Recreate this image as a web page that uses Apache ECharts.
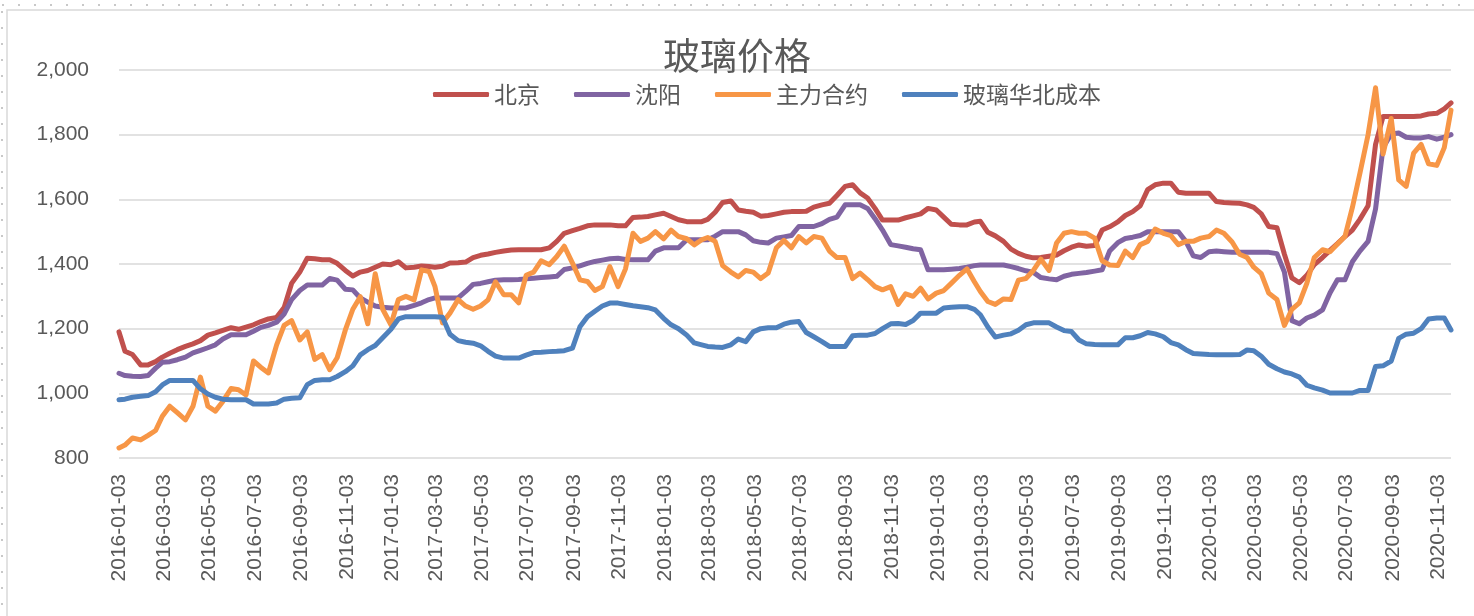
<!DOCTYPE html>
<html>
<head>
<meta charset="utf-8">
<script src="https://cdn.jsdelivr.net/npm/echarts@6/dist/echarts.min.js"></script>
<style>
  html, body { margin: 0; padding: 0; background: #fff; }
  #chart { width: 1474px; height: 616px; }
</style>
</head>
<body>
<div id="chart"></div>
<script>
 // 横轴刻度
 var tickLabels = ['2016-01-03','2016-03-03','2016-05-03','2016-07-03','2016-09-03','2016-11-03',
   '2017-01-03','2017-03-03','2017-05-03','2017-07-03','2017-09-03','2017-11-03',
   '2018-01-03','2018-03-03','2018-05-03','2018-07-03','2018-09-03','2018-11-03',
   '2019-01-03','2019-03-03','2019-05-03','2019-07-03','2019-09-03','2019-11-03',
   '2020-01-03','2020-03-03','2020-05-03','2020-07-03','2020-09-03','2020-11-03'];
 var seriesNames = ['北京', '沈阳', '主力合约', '玻璃华北成本'];

 // 取样日期: 每月 1/11/21 日, 首尾按数据范围
 var sampleDates = [];
 for (var y = 2016; y <= 2020; y++) {
   for (var m = 1; m <= 12; m++) {
     if (y == 2020 && m > 11) break;
     [1, 11, 21].forEach(function (d) {
       if (y == 2016 && m == 1 && d == 1) d = 3;
       if (y == 2020 && m == 11 && d == 21) d = 20;
       sampleDates.push(y + '-' + (m < 10 ? '0' + m : m) + '-' + (d < 10 ? '0' + d : d));
     });
   }
 }

 var beijing = [
   1190,1130,1120, 1088,1088,1098, 1112,1124,1135, 1145,1153,1163, 1180,1187,1195, 1203,1198,1205,
   1212,1222,1230, 1235,1265,1340, 1375,1418,1416, 1413,1413,1402, 1380,1363,1375, 1380,1390,1400,
   1398,1407,1388, 1390,1394,1392, 1390,1393,1403, 1404,1406,1420, 1427,1431,1436, 1440,1443,1444,
   1444,1444,1444, 1450,1470,1495, 1503,1510,1518, 1521,1521,1521, 1518,1518,1544, 1545,1547,1552,
   1557,1547,1537, 1531,1531,1531, 1538,1560,1590, 1595,1567,1563, 1560,1548,1550, 1555,1560,1562,
   1562,1563,1576, 1583,1588,1612, 1640,1645,1620, 1604,1572,1536, 1536,1536,1543, 1549,1555,1572,
   1567,1545,1523, 1521,1521,1530, 1532,1498,1487, 1470,1446,1433, 1424,1419,1420, 1424,1428,1441,
   1452,1459,1455, 1457,1505,1515, 1530,1550,1562, 1580,1630,1645, 1650,1650,1622, 1619,1619,1619,
   1619,1593,1590, 1589,1588,1583, 1575,1555,1516, 1512,1430,1357, 1342,1365,1398, 1420,1442,1463,
   1485,1505,1538, 1580,1770,1856, 1856,1856,1856, 1856,1858,1864, 1866,1880,1898];

 var shenyang = [
   1062,1055,1053, 1052,1055,1078, 1096,1098,1104, 1112,1125,1133, 1141,1150,1168, 1181,1181,1181,
   1192,1204,1210, 1220,1245,1290, 1318,1335,1335, 1335,1355,1350, 1322,1320,1295, 1282,1270,1266,
   1264,1264,1264, 1272,1280,1290, 1295,1295,1295, 1295,1315,1337, 1340,1345,1350, 1351,1351,1352,
   1354,1356,1358, 1360,1362,1383, 1388,1394,1402, 1408,1412,1416, 1418,1414,1413, 1413,1413,1440,
   1450,1450,1450, 1475,1475,1475, 1475,1486,1500, 1500,1500,1490, 1472,1467,1465, 1480,1484,1488,
   1516,1516,1516, 1525,1538,1545, 1583,1583,1583, 1572,1540,1505, 1460,1456,1452, 1447,1444,1382,
   1382,1382,1384, 1386,1390,1395, 1397,1397,1397, 1397,1392,1386, 1379,1374,1358, 1354,1351,1362,
   1368,1371,1374, 1378,1382,1440, 1466,1479,1483, 1488,1500,1500, 1500,1500,1500, 1470,1425,1420,
   1438,1440,1438, 1436,1436,1436, 1436,1436,1436, 1432,1375,1225, 1215,1233,1242, 1258,1310,1351,
   1351,1407,1440, 1470,1570,1760, 1802,1805,1792, 1790,1790,1794, 1786,1792,1800];

 var zhuli = [
   831,840,862, 856,870,885, 929,960,940, 918,960,1050, 960,945,975, 1015,1011,995,
   1100,1080,1063, 1150,1210,1225, 1165,1190,1105, 1120,1073,1110, 1196,1260,1299, 1215,1370,1260,
   1212,1290,1300, 1289,1382,1377, 1330,1218,1248, 1290,1270,1260, 1270,1289,1345, 1305,1305,1280,
   1365,1375,1410, 1398,1423,1455, 1403,1351,1346, 1318,1330,1392, 1330,1385,1495, 1470,1480,1500,
   1478,1505,1485, 1478,1459,1475, 1482,1470,1395, 1375,1360,1380, 1375,1355,1372, 1450,1473,1450,
   1485,1465,1485, 1480,1440,1420, 1420,1355,1372, 1352,1330,1320, 1330,1275,1308, 1300,1325,1292,
   1310,1318,1340, 1365,1385,1345, 1315,1284,1275, 1292,1290,1350, 1355,1380,1415, 1380,1465,1495,
   1500,1495,1495, 1480,1410,1397, 1395,1440,1420, 1460,1470,1508, 1495,1488,1460, 1470,1470,1480,
   1485,1505,1495, 1468,1430,1420, 1390,1370,1310, 1290,1210,1260, 1280,1340,1420, 1444,1438,1462,
   1485,1575,1680, 1800,1945,1740, 1850,1660,1640, 1743,1770,1710, 1705,1760,1876];

 var huabeiCost = [
   980,982,988, 991,993,1005, 1026,1040,1040, 1040,1040,1014, 998,988,982, 980,980,980,
   967,967,967, 970,982,985, 986,1027,1040, 1042,1042,1052, 1067,1085,1119, 1135,1148,1172,
   1198,1230,1237, 1237,1237,1237, 1237,1235,1183, 1163,1158,1155, 1147,1130,1115, 1109,1109,1109,
   1118,1126,1127, 1129,1130,1132, 1140,1206,1237, 1254,1270,1279, 1279,1275,1271, 1268,1265,1258,
   1232,1212,1200, 1180,1156,1150, 1145,1143,1142, 1150,1168,1160, 1190,1200,1203, 1203,1214,1220,
   1222,1188,1175, 1160,1145,1145, 1145,1178,1180, 1180,1185,1200, 1215,1216,1213, 1225,1248,1248,
   1248,1264,1266, 1268,1268,1260, 1243,1205,1174, 1180,1184,1195, 1212,1218,1218, 1218,1205,1194,
   1191,1165,1153, 1151,1150,1150, 1150,1172,1172, 1178,1188,1184, 1175,1157,1150, 1135,1123,1122,
   1120,1119,1119, 1119,1120,1134, 1132,1115,1090, 1076,1066,1060, 1050,1025,1017, 1010,1001,1001,
   1001,1001,1009, 1009,1083,1085, 1100,1170,1183, 1186,1200,1230, 1233,1233,1196];

 var colors = ['#C0504D', '#8064A2', '#F79646', '#4F81BD'];

 function toTime(s) {
   var p = s.split('-');
   return new Date(+p[0], +p[1] - 1, +p[2]).getTime();
 }
 function pad(n) { return n < 10 ? '0' + n : '' + n; }

 function makeSeries(name, values, i) {
   return {
     name: name,
     type: 'line',
     symbol: 'none',
     smooth: false,
     z: 2 + i,
     lineStyle: { width: 5, color: colors[i], cap: 'round', join: 'round' },
     itemStyle: { color: colors[i] },
     data: values.map(function (v, k) { return [toTime(sampleDates[k]), v]; })
   };
 }

 function makeOption() {
   var labelFont = "'Liberation Sans', 'Noto Sans CJK SC', sans-serif";
   var option = {
     animation: false,
     backgroundColor: '#ffffff',
     color: colors,
     title: {
       text: '玻璃价格',
       left: 'center',
       top: 32,
       textStyle: { color: '#595959', fontSize: 37, fontWeight: 'normal', fontFamily: "'Noto Sans CJK SC', sans-serif" }
     },
     legend: {
       data: seriesNames,
       left: 428,
       top: 78,
       icon: 'roundRect',
       itemWidth: 56,
       itemHeight: 5,
       itemGap: 34,
       textStyle: { color: '#595959', fontSize: 23, fontFamily: "'Noto Sans CJK SC', sans-serif" }
     },
     graphic: [
       { type: 'rect', shape: { x: 7, y: 10, width: 1480, height: 620 }, silent: true,
         style: { fill: 'none', stroke: '#D9D9D9', lineWidth: 1.5 } },
       { type: 'rect', shape: { x: 2, y: 5, width: 1480, height: 620 }, silent: true,
         style: { fill: 'none', stroke: '#C8C8C8', lineWidth: 2, lineDash: [2, 14] } }
     ],
     grid: { left: 119, right: 23, top: 70, bottom: 158, outerBoundsMode: 'none' },
     xAxis: {
       type: 'value',
       min: toTime('2016-01-03'),
       max: toTime('2020-11-20'),
       axisLine: { show: false },
       axisTick: { show: false },
       splitLine: { show: false },
       axisLabel: {
         customValues: tickLabels.map(toTime),
         rotate: 90,
         margin: 16,
         color: '#595959',
         fontSize: 21,
         fontFamily: labelFont,
         formatter: function (val) {
           var d = new Date(val);
           return d.getFullYear() + '-' + pad(d.getMonth() + 1) + '-' + pad(d.getDate());
         }
       }
     },
     yAxis: {
       type: 'value',
       min: 800,
       max: 2000,
       interval: 200,
       axisLine: { show: false },
       axisTick: { show: false },
       splitLine: { lineStyle: { color: '#D9D9D9', width: 1.5 } },
       axisLabel: {
         margin: 30,
         color: '#595959',
         fontSize: 21,
         fontFamily: labelFont,
         formatter: function (v) { return v.toLocaleString('en-US'); }
       }
     },
     series: [
       makeSeries(seriesNames[0], beijing, 0),
       makeSeries(seriesNames[1], shenyang, 1),
       makeSeries(seriesNames[2], zhuli, 2),
       makeSeries(seriesNames[3], huabeiCost, 3)
     ]
   };
   return option;
 }

 var myChart = echarts.init(document.getElementById('chart'));
 myChart.setOption(makeOption());
</script>
</body>
</html>
